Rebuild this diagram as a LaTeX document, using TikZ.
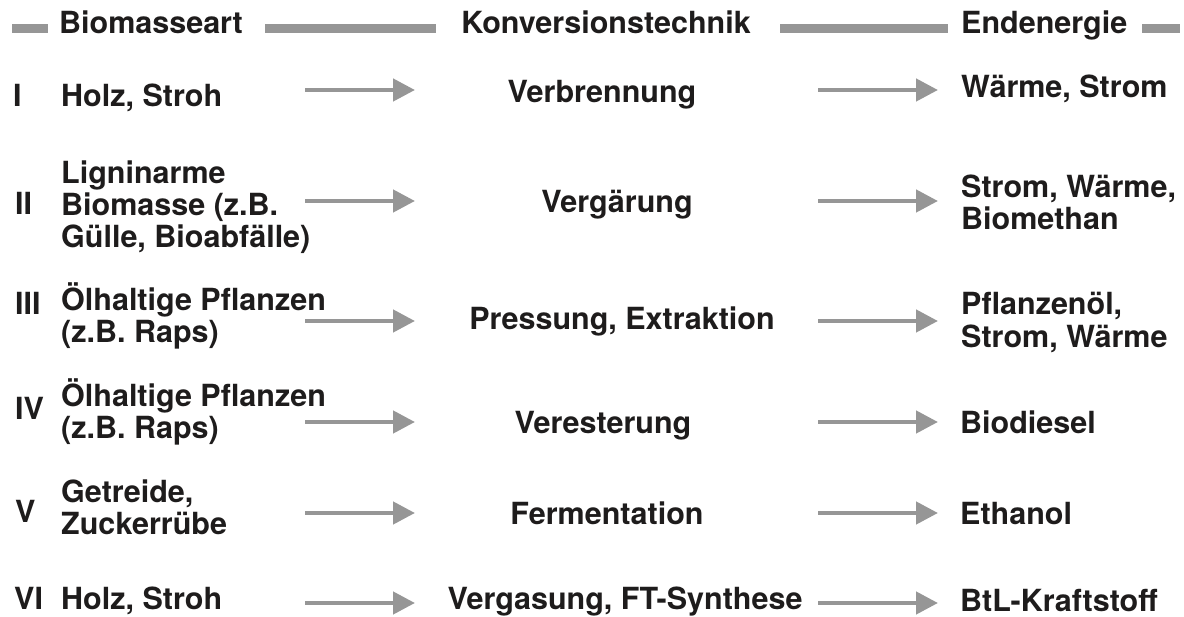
\documentclass[tikz,border=0pt]{standalone}
\usepackage{fontspec}
\setmainfont{TeX Gyre Heros}
\usetikzlibrary{arrows.meta}
\definecolor{flowgray}{RGB}{150,150,150}
\definecolor{inkblack}{RGB}{30,28,28}
% stacked lines, aligned on the baseline of the first line
\newcommand\textlines[1]{\begin{tabular}[t]{@{}l@{}}#1\end{tabular}}
\begin{document}
\begin{tikzpicture}[x=1pt,y=-1pt,
  lbl/.style={inner sep=0pt, font=\fontsize{30.5}{32}\selectfont\bfseries, text=inkblack},
  lw/.style={lbl, anchor=base west},
  lc/.style={lbl, anchor=base},
  flow/.style={draw=flowgray, line width=4.5pt, -{Triangle[length=22pt,width=22pt]}},
  bar/.style={draw=flowgray, line width=9pt}]
\useasboundingbox (0,0) rectangle (1184,617);

% column headings
\node[lw] (hbio)  at (59,34)  {Biomasseart};
\node[lc] (hkonv) at (606,34) {Konversionstechnik};
\node[lw] (hend)  at (961,34) {Endenergie};

% heading bars
\coordinate (b1s) at (12,29);   \coordinate (b1e) at (48,29);
\coordinate (b2s) at (265,29);  \coordinate (b2e) at (436,29);
\coordinate (b3s) at (780,29);  \coordinate (b3e) at (948,29);
\coordinate (b4s) at (1142,29); \coordinate (b4e) at (1180,29);
\draw[bar] (b1s) -- (b1e);
\draw[bar] (b2s) -- (b2e);
\draw[bar] (b3s) -- (b3e);
\draw[bar] (b4s) -- (b4e);

% row I
\node[lw] (n1) at (13,107)  {I};
\node[lw] (s1) at (61,107)  {Holz, Stroh};
\node[lc] (k1) at (602,103) {Verbrennung};
\node[lw] (e1) at (961,98)  {Wärme, Strom};

% row II
\node[lw] (n2) at (15,215)  {II};
\node[lw] (s2) at (61,184)  {\fontsize{30.5}{30}\selectfont\textlines{Ligninarme\\Biomasse (z.B.\\Gülle, Bioabfälle)}};
\node[lc] (k2) at (617,213) {Vergärung};
\node[lw] (e2) at (961,198) {\fontsize{30.5}{30}\selectfont\textlines{Strom, Wärme,\\Biomethan}};

% row III
\node[lw] (n3) at (15,315)  {III};
\node[lw] (s3) at (61,311)  {\fontsize{30.5}{30.5}\selectfont\textlines{Ölhaltige Pflanzen\\(z.B. Raps)}};
\node[lc] (k3) at (622,330) {Pressung, Extraktion};
\node[lw] (e3) at (961,315) {\textlines{Pflanzenöl,\\Strom, Wärme}};

% row IV
\node[lw] (n4) at (15,420)  {IV};
\node[lw] (s4) at (61,407)  {\fontsize{30.5}{29.5}\selectfont\textlines{Ölhaltige Pflanzen\\(z.B. Raps)}};
\node[lc] (k4) at (603,434) {Veresterung};
\node[lw] (e4) at (960,434) {Biodiesel};

% row V
\node[lw] (n5) at (15,522)  {V};
\node[lw] (s5) at (61,503)  {\textlines{Getreide,\\Zuckerrübe}};
\node[lc] (k5) at (607,525) {Fermentation};
\node[lw] (e5) at (960,525) {Ethanol};

% row VI
\node[lw] (n6) at (14,609)  {VI};
\node[lw] (s6) at (61,609)  {Holz, Stroh};
\node[lc] (k6) at (625,609) {Vergasung, FT-Synthese};
\node[lw] (e6) at (960,611) {BtL-Kraftstoff};

% flow arrows between the columns
\foreach \r/\y in {1/90,2/201,3/321,4/422,5/513,6/603}{
  \coordinate (a\r s) at (305,\y);
  \coordinate (a\r e) at (415,\y);
  \coordinate (c\r s) at (818,\y);
  \coordinate (c\r e) at (938,\y);
}
\foreach \r in {1,...,6}{
  \draw[flow] (a\r s) -- (a\r e);
  \draw[flow] (c\r s) -- (c\r e);
}
\end{tikzpicture}
\end{document}
